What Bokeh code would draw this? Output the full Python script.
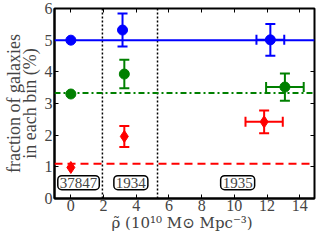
from bokeh.plotting import figure
from bokeh.models import (Range1d, LinearAxis, Span, Whisker, TeeHead, Label,
                          ColumnDataSource, FixedTicker, CustomJSTickFormatter)
from bokeh.embed import file_html
from bokeh.resources import INLINE

# ---- data ----
blue_x = [0.0, 3.16, 12.2]
blue_y = [5.0, 5.32, 5.01]
blue_yerr = [0.0, 0.52, 0.50]
blue_xerr = [0.0, 0.0, 0.85]

green_x = [0.0, 3.27, 13.09]
green_y = [3.30, 3.93, 3.52]
green_yerr = [0.0, 0.45, 0.43]
green_xerr = [0.0, 0.0, 1.15]

red_x = [0.0, 3.27, 11.82]
red_y = [0.98, 1.96, 2.42]
red_yerr = [0.0, 0.33, 0.36]
red_xerr = [0.0, 0.0, 1.14]

ref_levels = [5.0, 3.33, 1.1]
bin_edges = [1.93, 5.3]
count_labels = ["37847", "1934", "1935"]
count_x = [0.47, 3.67, 10.2]
count_y = [0.5, 0.5, 0.5]

x_ticks = [0, 2, 4, 6, 8, 10, 12, 14]
y_ticks = [0, 1, 2, 3, 4, 5, 6]

FONT = "Liberation Serif"

p = figure(width=318, height=234, output_backend="svg", toolbar_location=None,
           x_range=Range1d(-1, 14.9), y_range=Range1d(0, 6),
           min_border_left=0, min_border_right=4, min_border_top=8, min_border_bottom=0)
p.grid.visible = False
p.outline_line_color = "black"
p.outline_line_width = 2
p.background_fill_color = "white"
p.border_fill_color = "white"

for ax in (p.xaxis[0], p.yaxis[0]):
    ax.major_tick_in = 4
    ax.major_tick_out = 0
    ax.minor_tick_line_color = None
    ax.axis_line_width = 2
    ax.major_tick_line_width = 1
    ax.major_label_text_font = FONT
    ax.major_label_text_font_size = "16px"
    ax.axis_label_text_font = FONT
    ax.axis_label_text_font_size = "18px"
    ax.axis_label_text_font_style = "normal"
    ax.major_label_standoff = 2

p.xaxis.ticker = FixedTicker(ticks=x_ticks)
p.yaxis.ticker = FixedTicker(ticks=y_ticks)
p.xaxis.axis_label = "ρ̃  (10¹⁰ M⊙ Mpc⁻³)"
p.xaxis.axis_label_text_font = "DejaVu Serif"
p.xaxis.axis_label_text_font_size = "15px"
p.yaxis.axis_label = "fraction of galaxies\nin each bin (%)"
p.yaxis.axis_label_text_line_height = 0.8
p.xaxis.axis_label_standoff = 0
p.xaxis.major_label_standoff = 1
p.yaxis.axis_label_standoff = 2

blank = CustomJSTickFormatter(code="return ''")
for loc, ticks in (("right", y_ticks), ("above", x_ticks)):
    ax = LinearAxis(ticker=FixedTicker(ticks=ticks), formatter=blank)
    ax.major_tick_in = 4
    ax.major_tick_out = 0
    ax.minor_tick_line_color = None
    ax.axis_line_color = None
    ax.major_label_standoff = 0
    ax.major_label_text_font_size = "1px"
    p.add_layout(ax, loc)

# vertical bin boundaries
for xe in bin_edges:
    p.add_layout(Span(location=xe, dimension="height", line_color="black",
                      line_width=1.5, line_dash="2 2"))

# reference horizontal lines
colors = ["#0000ff", "#008000", "#ff0000"]
dashes = ["solid", "6 3 2 3", "8 5"]
for lev, c, d in zip(ref_levels, colors, dashes):
    p.add_layout(Span(location=lev, dimension="width", line_color=c,
                      line_width=2, line_dash=d))

series = [
    (blue_x, blue_y, blue_yerr, blue_xerr, colors[0], "circle"),
    (green_x, green_y, green_yerr, green_xerr, colors[1], "circle"),
    (red_x, red_y, red_yerr, red_xerr, colors[2], "diamond"),
]
for xs, ys, ye, xe, c, mk in series:
    src = ColumnDataSource(dict(
        x=xs, y=ys,
        ylo=[y - e for y, e in zip(ys, ye)], yhi=[y + e for y, e in zip(ys, ye)],
        xlo=[x - e for x, e in zip(xs, xe)], xhi=[x + e for x, e in zip(xs, xe)]))
    idx_y = [i for i, e in enumerate(ye) if e > 0]
    idx_x = [i for i, e in enumerate(xe) if e > 0]
    if idx_y:
        sy = ColumnDataSource({k: [v[i] for i in idx_y] for k, v in src.data.items()})
        p.add_layout(Whisker(source=sy, base="x", lower="ylo", upper="yhi",
                             dimension="height", line_color=c, line_width=2,
                             upper_head=TeeHead(size=10, line_color=c, line_width=2),
                             lower_head=TeeHead(size=10, line_color=c, line_width=2)))
    if idx_x:
        sx = ColumnDataSource({k: [v[i] for i in idx_x] for k, v in src.data.items()})
        p.add_layout(Whisker(source=sx, base="y", lower="xlo", upper="xhi",
                             dimension="width", line_color=c, line_width=2,
                             upper_head=TeeHead(size=10, line_color=c, line_width=2),
                             lower_head=TeeHead(size=10, line_color=c, line_width=2)))
    if mk == "circle":
        p.scatter("x", "y", source=src, marker="circle", size=10,
                  fill_color=c, line_color=c)
    else:
        p.scatter("x", "y", source=src, marker="diamond", size=12,
                  fill_color=c, line_color=c)

for t, xx, yy in zip(count_labels, count_x, count_y):
    p.add_layout(Label(x=xx, y=yy, text=t, text_font=FONT, text_font_size="15px",
                       text_align="center", text_baseline="middle",
                       border_line_color="black", border_line_width=1.5,
                       background_fill_color="white", padding=2,
                       border_radius=4))

open("out.html", "w").write(file_html(p, INLINE))
